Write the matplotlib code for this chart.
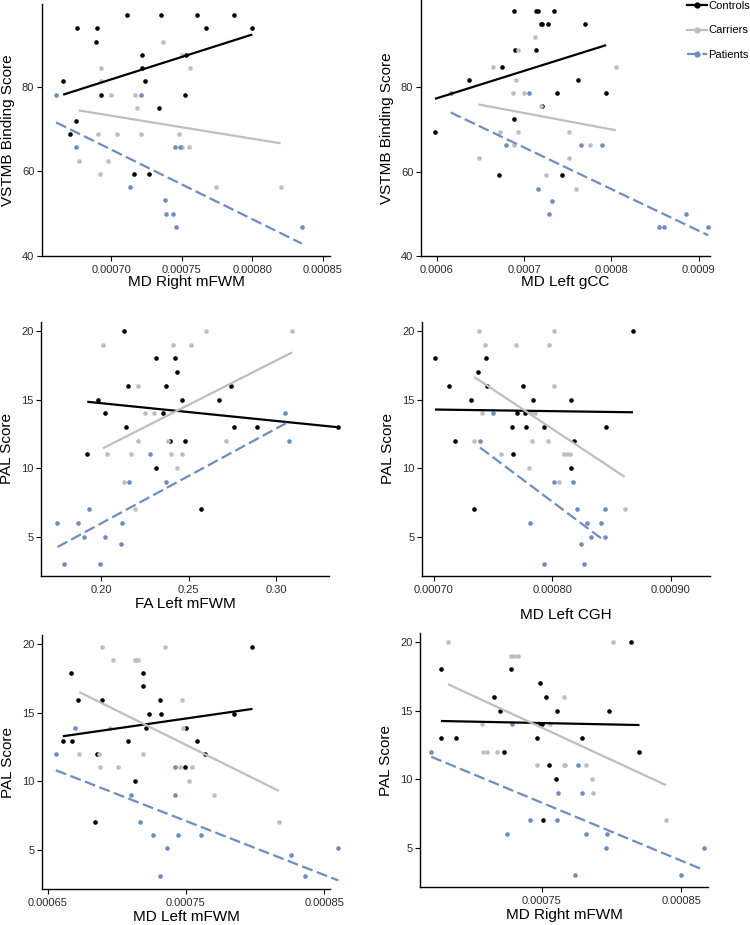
"""
Scatter plots with group regression lines: VSTMB / PAL scores vs DTI metrics.
"""

import numpy as np
import matplotlib
matplotlib.use("Agg")
import matplotlib.pyplot as plt
from matplotlib.lines import Line2D

plt.rcParams['font.family'] = ['Liberation Sans', 'DejaVu Sans']

# ---- colours / groups
groups = ["Controls", "Carriers", "Patients"]
colors = {"Controls": "#000000", "Carriers": "#BEBEBE", "Patients": "#6E8DC0"}
styles = {"Controls": "-", "Carriers": "-", "Patients": (0, (5, 2))}

# ---- panel 1 : VSTMB vs MD Right mFWM
p1_ctrl_x = [0.000711, 0.000735, 0.000761, 0.000787, 0.000676, 0.000690, 0.000767, 0.000800,
             0.000689, 0.000722, 0.000753, 0.000722, 0.000724, 0.000666, 0.000693, 0.000752,
             0.000734, 0.000675, 0.000671, 0.000716, 0.000727]
p1_ctrl_y = [96.875, 96.875, 96.875, 96.875, 93.75, 93.75, 93.75, 93.75, 90.625, 87.5, 87.5,
             84.375, 81.25, 81.25, 78.125, 78.125, 75.0, 71.875, 68.75, 59.375, 59.375]
p1_carr_x = [0.000737, 0.000750, 0.000693, 0.000756, 0.000693, 0.000700, 0.000717, 0.000718,
             0.000691, 0.000704, 0.000721, 0.000748, 0.000750, 0.000755, 0.000677, 0.000698,
             0.000692, 0.000774, 0.000820]
p1_carr_y = [90.625, 87.5, 84.375, 84.375, 81.25, 78.125, 78.125, 75.0, 68.75, 68.75, 68.75,
             68.75, 65.625, 65.625, 62.5, 62.5, 59.375, 56.25, 56.25]
p1_pat_x = [0.000661, 0.000721, 0.000675, 0.000745, 0.000749, 0.000713, 0.000738, 0.000739,
            0.000744, 0.000746, 0.000835]
p1_pat_y = [78.125, 78.125, 65.625, 65.625, 65.625, 56.25, 53.125, 50.0, 50.0, 46.875, 46.875]

# ---- panel 2 : VSTMB vs MD Left gCC
p2_ctrl_x = [0.000689, 0.000714, 0.0007155, 0.000734, 0.000719, 0.0007205, 0.000727, 0.000770,
             0.000690, 0.000714, 0.000675, 0.000637, 0.000762, 0.000738, 0.000794, 0.000721,
             0.000689, 0.000598, 0.000671, 0.000744]
p2_ctrl_y = [98.2, 98.2, 98.2, 98.2, 95.1, 95.1, 95.1, 95.1, 88.9, 88.9, 84.7, 81.7, 81.7,
             78.7, 78.7, 75.6, 72.5, 69.4, 59.1, 59.1]
p2_carr_x = [0.000712, 0.000693, 0.000664, 0.000805, 0.000691, 0.000687, 0.000700, 0.000719,
             0.000672, 0.000693, 0.000751, 0.000689, 0.000776, 0.000648, 0.000751, 0.000725,
             0.000760]
p2_carr_y = [92.0, 88.9, 84.7, 84.7, 81.7, 78.7, 78.7, 75.6, 69.4, 69.4, 69.4, 66.3, 66.3,
             63.2, 63.2, 59.1, 56.0]
p2_pat_x = [0.000616, 0.000706, 0.000679, 0.000765, 0.000789, 0.000716, 0.000732, 0.000729,
            0.000886, 0.000855, 0.000860, 0.000911]
p2_pat_y = [78.7, 78.7, 66.3, 66.3, 66.3, 56.0, 53.0, 49.9, 49.9, 46.8, 46.8, 46.8]

# ---- panel 3 : PAL vs FA Left mFWM
p3_ctrl_x = [0.213, 0.231, 0.242, 0.243, 0.215, 0.237, 0.274, 0.198, 0.246, 0.267, 0.202,
             0.235, 0.214, 0.276, 0.289, 0.335, 0.239, 0.248, 0.192, 0.231, 0.257]
p3_ctrl_y = [20, 18, 18, 17, 16, 16, 16, 15, 15, 15, 14, 14, 13, 13, 13, 13, 12, 12, 11, 10, 7]
p3_carr_x = [0.201, 0.241, 0.251, 0.260, 0.309, 0.221, 0.225, 0.230, 0.221, 0.238, 0.271,
             0.203, 0.217, 0.240, 0.246, 0.243, 0.213, 0.219]
p3_carr_y = [19, 19, 19, 20, 20, 16, 14, 14, 12, 12, 12, 11, 11, 11, 11, 10, 9, 7]
p3_pat_x = [0.305, 0.307, 0.228, 0.216, 0.237, 0.193, 0.175, 0.187, 0.190, 0.202, 0.212,
            0.211, 0.179, 0.199]
p3_pat_y = [14, 12, 11, 9, 9, 7, 6, 6, 5, 5, 6, 4.5, 3, 3]

# ---- panel 4 : PAL vs MD Left CGH
p4_ctrl_x = [0.000868, 0.000701, 0.000744, 0.000737, 0.000713, 0.000745, 0.000775, 0.000731,
             0.000784, 0.000816, 0.000770, 0.000777, 0.000766, 0.000778, 0.000793, 0.000845,
             0.000718, 0.000818, 0.000767, 0.000816, 0.000734]
p4_ctrl_y = [20, 18, 18, 17, 16, 16, 16, 15, 15, 15, 14, 14, 13, 13, 13, 13, 12, 12, 11, 10, 7]
p4_carr_x = [0.000738, 0.000801, 0.000743, 0.000769, 0.000797, 0.000801, 0.000741, 0.000782,
             0.000785, 0.000734, 0.000783, 0.000796, 0.000757, 0.000810, 0.000812, 0.000815,
             0.000780, 0.000806, 0.000861]
p4_carr_y = [20, 20, 19, 19, 19, 16, 14, 14, 14, 12, 12, 12, 11, 11, 11, 11, 10, 9, 7]
p4_pat_x = [0.000750, 0.000739, 0.000801, 0.000817, 0.000821, 0.000844, 0.000781, 0.000829,
            0.000841, 0.000833, 0.000844, 0.000824, 0.000793, 0.000827]
p4_pat_y = [14, 12, 9, 9, 7, 7, 6, 6, 6, 5, 5, 4.5, 3, 3]

# ---- panel 5 : PAL vs MD Left mFWM
p5_ctrl_x = [0.000667, 0.000672, 0.000689, 0.000719, 0.000719, 0.000723, 0.000732, 0.000731,
             0.000721, 0.000750, 0.000798, 0.000785, 0.000661, 0.000668, 0.000708, 0.000758,
             0.000686, 0.000764, 0.000749, 0.000713, 0.000684]
p5_ctrl_y = [17.85, 15.9, 15.9, 16.9, 17.85, 14.9, 14.9, 15.9, 13.9, 13.9, 19.8, 14.9, 12.95,
             12.95, 12.95, 12.95, 12.0, 12.0, 11.0, 10.0, 7.05]
p5_carr_x = [0.000689, 0.000735, 0.000697, 0.000713, 0.000714, 0.000715, 0.000747, 0.000695,
             0.000748, 0.000673, 0.000687, 0.000719, 0.000688, 0.000701, 0.000746, 0.000754,
             0.000752, 0.000770, 0.000817]
p5_carr_y = [19.8, 19.8, 18.85, 18.85, 18.85, 18.85, 15.9, 13.9, 13.9, 12.0, 12.0, 12.0, 11.0,
             11.0, 11.0, 11.0, 10.0, 9.0, 7.05]
p5_pat_x = [0.000656, 0.000670, 0.000742, 0.000710, 0.000742, 0.000717, 0.000726, 0.000744,
            0.000761, 0.000736, 0.000826, 0.000860, 0.000836, 0.000731]
p5_pat_y = [12.0, 13.9, 11.0, 9.0, 9.0, 7.05, 6.05, 6.05, 6.05, 5.1, 4.6, 5.1, 3.1, 3.1]

# ---- panel 6 : PAL vs MD Right mFWM
p6_ctrl_x = [0.000814, 0.000678, 0.000728, 0.000749, 0.000716, 0.000753, 0.000720, 0.000761,
             0.000798, 0.000749, 0.000750, 0.000678, 0.000689, 0.000747, 0.000779, 0.000723,
             0.000820, 0.000755, 0.000760, 0.000751]
p6_ctrl_y = [20, 18, 18, 17, 16, 16, 15, 15, 15, 14, 14, 13, 13, 13, 13, 12, 12, 11, 10, 7]
p6_carr_x = [0.000683, 0.000801, 0.000728, 0.000730, 0.000733, 0.000766, 0.000707, 0.000756,
             0.000708, 0.000711, 0.000718, 0.000747, 0.000766, 0.000767, 0.000782, 0.000786,
             0.000787, 0.000839]
p6_carr_y = [20, 20, 19, 19, 19, 16, 14, 14, 12, 12, 12, 11, 11, 11, 11, 10, 9, 7]
p6_pat_x = [0.000671, 0.000729, 0.000776, 0.000762, 0.000779, 0.000742, 0.000761, 0.000725,
            0.000782, 0.000797, 0.000796, 0.000866, 0.000774, 0.000850]
p6_pat_y = [12, 14, 11, 9, 9, 7, 7, 6, 6, 6, 5, 5, 3, 3]

# ---- axis labels and ticks
vstmb_label = "VSTMB Binding Score"
pal_label = "PAL Score"
vstmb_yticks = [40, 60, 80]
pal_yticks = [5, 10, 15, 20]
p1_xticks = [0.00070, 0.00075, 0.00080, 0.00085]
p1_xticklabels = ["0.00070", "0.00075", "0.00080", "0.00085"]
p2_xticks = [0.0006, 0.0007, 0.0008, 0.0009]
p2_xticklabels = ["0.0006", "0.0007", "0.0008", "0.0009"]
p3_xticks = [0.20, 0.25, 0.30]
p3_xticklabels = ["0.20", "0.25", "0.30"]
p4_xticks = [0.00070, 0.00080, 0.00090]
p4_xticklabels = ["0.00070", "0.00080", "0.00090"]
p5_xticks = [0.00065, 0.00075, 0.00085]
p5_xticklabels = ["0.00065", "0.00075", "0.00085"]
p6_xticks = [0.00075, 0.00085]
p6_xticklabels = ["0.00075", "0.00085"]

W, H = 750, 925


def px_rect(left, top, right, bottom):
    return [left / W, 1 - bottom / H, (right - left) / W, (bottom - top) / H]


def draw_panel(ax, data, xlabel, ylabel, xticks, xticklabels, yticks, xlim, ylim, xlab_off=19):
    for g in groups:
        x, y = np.asarray(data[g][0]), np.asarray(data[g][1])
        ax.scatter(x, y, s=11, color=colors[g], linewidths=0, zorder=3, clip_on=False)
    for g in groups:
        x, y = np.asarray(data[g][0]), np.asarray(data[g][1])
        k, b = np.polyfit(x, y, 1)
        xs = np.array([x.min(), x.max()])
        ax.plot(xs, k * xs + b, color=colors[g], ls=styles[g], lw=1.6, zorder=4,
                clip_on=False, solid_capstyle='butt')
    ax.set_xlim(*xlim)
    ax.set_ylim(*ylim)
    ax.set_xticks(xticks)
    ax.set_xticklabels(xticklabels)
    ax.set_yticks(yticks)
    for s in ["top", "right"]:
        ax.spines[s].set_visible(False)
    for s in ["left", "bottom"]:
        ax.spines[s].set_linewidth(1.0)
    ax.tick_params(axis='both', length=3.5, width=0.8, labelsize=8, labelcolor='#2b2b2b')
    ax.tick_params(axis='x', pad=3)
    ax.tick_params(axis='y', pad=2)
    bbox = ax.get_position()
    wpx, hpx = bbox.width * W, bbox.height * H
    ax.set_xlabel(xlabel, fontsize=11)
    ax.set_ylabel(ylabel, fontsize=11)
    ax.xaxis.set_label_coords(0.5, -xlab_off / hpx)
    ax.yaxis.set_label_coords(-27 / wpx, 0.5)


fig = plt.figure(figsize=(7.5, 9.25), dpi=100)

ax1 = fig.add_axes(px_rect(42, 4, 330, 256))
draw_panel(ax1, {"Controls": (p1_ctrl_x, p1_ctrl_y), "Carriers": (p1_carr_x, p1_carr_y),
                 "Patients": (p1_pat_x, p1_pat_y)},
           "MD Right mFWM", vstmb_label, p1_xticks, p1_xticklabels, vstmb_yticks,
           (0.000651, 0.000855), (40, 99.5))

ax2 = fig.add_axes(px_rect(421, 0, 710, 256))
draw_panel(ax2, {"Controls": (p2_ctrl_x, p2_ctrl_y), "Carriers": (p2_carr_x, p2_carr_y),
                 "Patients": (p2_pat_x, p2_pat_y)},
           "MD Left gCC", vstmb_label, p2_xticks, p2_xticklabels, vstmb_yticks,
           (0.000582, 0.000913), (40, 100.7))

ax3 = fig.add_axes(px_rect(41, 322, 329, 576))
draw_panel(ax3, {"Controls": (p3_ctrl_x, p3_ctrl_y), "Carriers": (p3_carr_x, p3_carr_y),
                 "Patients": (p3_pat_x, p3_pat_y)},
           "FA Left mFWM", pal_label, p3_xticks, p3_xticklabels, pal_yticks,
           (0.1656, 0.330), (2.15, 20.65), xlab_off=21)

ax4 = fig.add_axes(px_rect(422, 322, 710, 576))
draw_panel(ax4, {"Controls": (p4_ctrl_x, p4_ctrl_y), "Carriers": (p4_carr_x, p4_carr_y),
                 "Patients": (p4_pat_x, p4_pat_y)},
           "MD Left CGH", pal_label, p4_xticks, p4_xticklabels, pal_yticks,
           (0.00069, 0.000933), (2.15, 20.65), xlab_off=32)

ax5 = fig.add_axes(px_rect(42, 635, 330, 889))
draw_panel(ax5, {"Controls": (p5_ctrl_x, p5_ctrl_y), "Carriers": (p5_carr_x, p5_carr_y),
                 "Patients": (p5_pat_x, p5_pat_y)},
           "MD Left mFWM", pal_label, p5_xticks, p5_xticklabels, pal_yticks,
           (0.000646, 0.000854), (2.15, 20.65), xlab_off=21)

ax6 = fig.add_axes(px_rect(420, 633, 708, 887))
draw_panel(ax6, {"Controls": (p6_ctrl_x, p6_ctrl_y), "Carriers": (p6_carr_x, p6_carr_y),
                 "Patients": (p6_pat_x, p6_pat_y)},
           "MD Right mFWM", pal_label, p6_xticks, p6_xticklabels, pal_yticks,
           (0.000663, 0.000869), (2.15, 20.65), xlab_off=21)

# legend (top right)
handles = [Line2D([], [], color=colors[g], ls=styles[g], lw=1.6, marker='o', markersize=3.5)
           for g in groups]
fig.legend(handles, groups, loc='upper left', bbox_to_anchor=(687 / W, 1 - 1 / H),
           frameon=False, fontsize=8, handlelength=1.8, handletextpad=0.1,
           labelspacing=1.3, borderpad=0, borderaxespad=0, numpoints=1)

fig.savefig("out.png", dpi=100, facecolor='white')
